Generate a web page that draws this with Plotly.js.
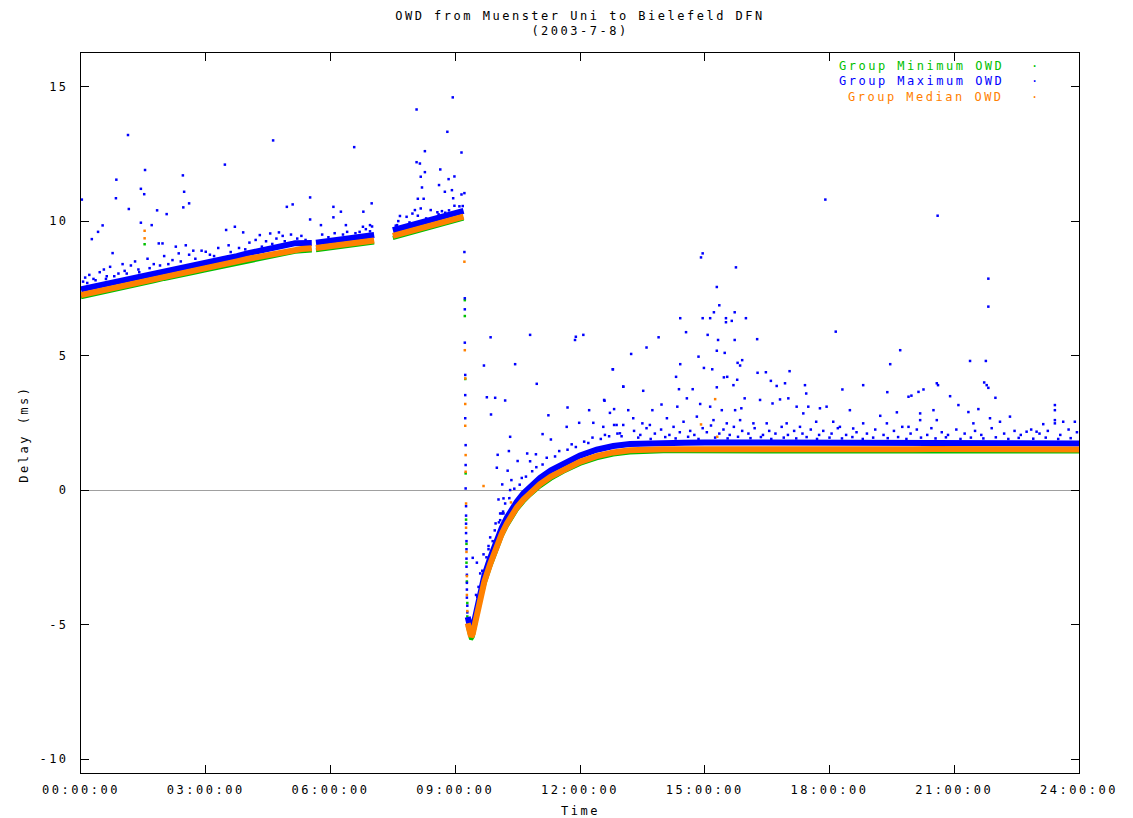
<!DOCTYPE html>
<html>
<head>
<meta charset="utf-8">
<script src="https://cdn.plot.ly/plotly-3.0.1.min.js"></script>
<style>
  html, body { margin: 0; padding: 0; background: #ffffff; }
  #chart { width: 1133px; height: 818px; }
  text { letter-spacing: 2.5px; }
</style>
</head>
<body>
<div id="chart"></div>
<script>
// ---------------- data ----------------
// time in hours of day 2003-07-08, delay in ms
const bandT = [0,0.25,0.5,0.75,1,1.25,1.5,1.75,2,2.25,2.5,2.75,3,3.25,3.5,3.75,4,4.25,4.5,4.75,5,
  5.1,5.15,5.3,5.55,null,5.65,5.9,6.2,6.5,6.8,7.05,null,7.5,7.75,8,8.25,8.5,8.75,9,9.2,null,
  9.3,9.34,9.38,9.42,9.46,9.52,9.6,9.7,9.84,10,10.12,10.24,10.36,10.48,10.64,10.8,11.04,11.3,11.6,12,12.4,12.8,13.2,13.6,
  14,14.5,15,15.5,16,16.5,17,17.5,18,18.5,19,19.5,20,20.5,21,21.5,22,22.5,23,23.5,24];

const medianBand = [7.25,7.33,7.42,7.5,7.58,7.67,7.76,7.84,7.93,8.0,8.08,8.17,8.25,8.33,8.42,8.5,8.59,8.67,8.75,8.84,8.91,
  8.93,8.94,8.96,8.99,null,9.0,9.05,9.11,9.17,9.23,9.28,null,9.45,9.56,9.66,9.77,9.88,9.98,10.08,10.17,null,
  -4.95,-5.3,-5.45,-5.35,-5.1,-4.6,-4.0,-3.4,-2.75,-2.05,-1.62,-1.25,-0.93,-0.65,-0.35,-0.1,0.22,0.5,0.76,1.05,1.26,1.4,1.48,1.51,
  1.52,1.52,1.53,1.52,1.52,1.53,1.52,1.52,1.51,1.52,1.52,1.52,1.52,1.53,1.52,1.52,1.52,1.51,1.51,1.51,1.51];

const maximumBand = [7.46,7.54,7.62,7.7,7.79,7.87,7.96,8.04,8.13,8.2,8.29,8.37,8.45,8.54,8.62,8.7,8.8,8.87,8.95,9.04,9.11,
  9.16,9.18,9.17,9.19,null,9.2,9.25,9.31,9.38,9.43,9.48,null,9.66,9.77,9.87,9.98,10.09,10.19,10.29,10.38,null,
  -4.72,-5.08,-5.24,-5.14,-4.88,-4.38,-3.78,-3.18,-2.53,-1.83,-1.4,-1.03,-0.71,-0.43,-0.12,0.13,0.45,0.73,0.99,1.28,1.5,1.64,1.71,1.74,
  1.75,1.76,1.77,1.77,1.76,1.76,1.75,1.75,1.74,1.75,1.75,1.74,1.75,1.75,1.74,1.74,1.74,1.73,1.73,1.73,1.73];

const minimumBand = [7.17,7.25,7.34,7.42,7.5,7.59,7.68,7.76,7.85,7.92,8.0,8.09,8.17,8.25,8.34,8.42,8.51,8.59,8.67,8.76,8.83,
  8.85,8.86,8.88,8.91,null,8.92,8.97,9.03,9.09,9.15,9.2,null,9.37,9.48,9.58,9.69,9.8,9.9,10.0,10.09,null,
  -5.05,-5.4,-5.55,-5.45,-5.2,-4.7,-4.1,-3.5,-2.84,-2.14,-1.7,-1.33,-1.01,-0.73,-0.43,-0.18,0.14,0.42,0.68,0.97,1.18,1.32,1.4,1.43,
  1.44,1.44,1.44,1.44,1.44,1.44,1.44,1.44,1.43,1.44,1.44,1.44,1.44,1.44,1.44,1.44,1.44,1.43,1.43,1.43,1.43];

// scattered single samples [hour, ms]
const maximumPoints = [
  [0.02,10.8],[0.26,9.33],[0.41,9.6],[0.52,9.84],[0.76,8.81],[0.84,10.85],[0.85,11.54],[1.13,13.2],[1.15,10.45],
  [1.44,11.2],[1.52,11.0],[1.54,11.9],[1.44,9.94],[1.7,9.85],[1.83,10.4],[2.06,10.26],[1.87,9.17],[1.96,9.17],
  [2.28,9.05],[2.48,11.09],[2.45,11.7],[2.6,10.66],[2.46,10.51],[2.52,9.1],[2.7,8.9],[3.0,8.86],[3.46,12.1],
  [3.49,9.67],[3.7,9.79],[3.9,9.58],[4.3,9.48],[4.55,9.54],[4.62,13.0],[4.76,9.58],[4.95,10.53],[5.09,10.62],
  [5.51,10.88],[5.51,10.06],[5.77,9.85],[6.07,10.53],[6.07,10.14],[6.25,10.35],[6.37,9.85],[6.57,12.75],
  [6.79,10.35],[6.99,10.66],[6.95,9.85],[6.78,9.79],
  [0.1,7.9],[0.2,8.0],[0.3,7.85],[0.45,8.1],[0.55,8.2],[0.62,7.95],[0.7,8.3],[0.9,8.05],[1.0,8.4],[1.05,8.15],
  [1.2,8.35],[1.3,8.5],[1.38,8.2],[1.6,8.6],[1.75,8.4],[2.0,8.7],[2.2,8.55],[2.35,8.8],[2.6,8.75],[2.9,8.9],
  [3.1,8.75],[3.3,9.0],[3.55,9.1],[3.8,9.0],[4.05,9.2],[4.2,9.3],[4.45,9.25],[4.7,9.35],[4.85,9.45],[5.05,9.5],
  [5.3,9.45],[5.8,9.5],[6.1,9.55],[6.4,9.6],[6.6,9.55],[6.85,9.7],[7.0,9.8],
  [0.05,7.75],[0.15,7.7],[0.35,7.8],[0.6,7.85],[0.8,7.95],[1.1,8.05],[1.4,8.1],[1.65,8.25],[1.9,8.35],[2.1,8.4],
  [2.4,8.5],[2.75,8.6],[3.2,8.7],[3.6,8.85],[3.95,8.95],[4.35,9.05],[4.6,9.15],[4.9,9.25],[5.2,9.35],[5.4,9.3],
  [5.95,9.4],[6.3,9.5],[6.7,9.6],[6.95,9.62],[7.6,9.85],[7.9,9.95],[8.3,10.1],[8.6,10.25],[8.85,10.4],[9.1,10.55],
  [8.94,14.6],[8.07,14.15],[8.81,13.32],[8.27,12.6],[9.15,12.55],[8.07,12.19],[8.15,12.14],[8.64,11.92],[8.27,11.82],
  [8.17,11.65],[8.98,11.66],[8.84,11.56],[8.61,11.34],[8.2,11.25],[8.75,11.09],[8.92,11.15],[9.22,11.04],[9.15,10.99],
  [8.95,10.85],[8.1,10.83],[8.24,10.83],[8.98,10.57],[9.18,10.56],[8.03,10.41],[8.17,10.47],[8.41,10.41],[8.57,10.33],
  [8.68,10.37],[8.76,10.31],[7.67,10.19],[7.83,10.16],[7.97,10.28],[8.1,10.2],[7.57,9.83],[7.63,10.0],[9.22,8.85],
  [9.23,7.13],[9.23,6.72],[9.23,5.48],[9.24,4.28],[9.24,3.53],[9.24,2.67],[9.25,1.67],[9.25,0.93],[9.25,0.06],
  [9.26,-0.6],[9.26,-0.95],[9.26,-1.25],[9.26,-1.6],[9.27,-1.9],[9.27,-2.2],[9.27,-2.55],[9.27,-2.85],[9.28,-3.15],
  [9.28,-3.45],[9.28,-3.7],[9.28,-4.0],[9.29,-4.3],[9.29,-4.55],[9.29,-4.85],
  [9.85,5.68],[9.69,4.63],[10.44,4.68],[10.8,5.77],[11.88,5.58],[12.08,5.77],[10.96,3.95],[9.76,3.45],[9.96,3.43],
  [10.2,3.33],[9.86,2.81],[11.24,2.78],[11.7,3.07],[12.79,4.49],[13.04,3.84],[12.58,3.35],[10.32,1.98],[10.02,1.31],
  [10.29,1.45],[10.0,0.83],[10.26,0.72],[10.5,1.08],[10.73,1.36],[10.8,1.07],[10.94,1.33],[11.1,2.08],[11.3,1.88],
  [10.35,0.37],[10.13,0.21],[10.04,-0.35],[10.16,-0.31],[10.32,0.0],[10.08,-0.87],[10.12,-0.87],[10.16,-0.87],
  [9.97,-1.24],[10.08,-1.12],[9.84,-1.76],[9.8,-2.08],[9.68,-2.39],[9.42,-2.52],[9.52,-2.7],[9.6,-3.1],[9.64,-3.44],
  [9.53,-3.97],[9.61,-4.09],[9.48,-4.77],[11.68,2.35],[11.98,2.5],[12.22,2.97],[12.32,2.5],[12.56,2.35],[12.72,2.87],
  [12.82,2.42],[12.96,2.11],[13.04,2.42],
  [9.5,-3.9],[9.56,-3.6],[9.65,-3.0],[9.75,-2.5],[9.8,-2.2],[9.9,-1.9],[9.95,-1.5],[10.05,-1.2],[10.15,-0.8],
  [10.2,-0.5],[10.3,-0.3],[10.42,0.05],[10.55,0.2],[10.6,0.45],[10.7,0.5],[10.85,0.7],[10.95,0.85],[11.1,0.95],
  [11.2,1.2],[11.4,1.25],[11.5,1.45],[11.7,1.5],[11.8,1.7],[11.9,1.6],[12.1,1.8],[12.2,1.75],[12.3,1.95],
  [12.5,1.9],[12.6,2.05],[12.7,2.0],[12.9,2.1],[13.0,2.0],
  [14.95,8.8],[14.91,8.65],[15.75,8.28],[15.29,7.55],[15.35,6.87],[15.22,6.61],[15.72,6.61],[14.41,6.39],[14.95,6.39],
  [15.13,6.39],[15.51,6.39],[15.51,6.24],[15.65,6.29],[15.99,6.39],[14.55,5.87],[15.07,5.77],[15.32,5.58],[15.72,5.58],
  [16.26,5.61],[13.89,5.68],[18.15,5.89],[13.23,5.06],[15.29,5.18],[15.48,5.1],[14.85,4.96],[14.41,4.68],[12.79,4.49],
  [14.98,4.54],[15.18,4.49],[15.79,4.73],[15.9,4.83],[15.85,4.63],[16.27,4.36],[17.04,4.42],[14.31,4.21],[15.46,4.19],
  [15.54,4.21],[15.29,3.82],[15.69,3.9],[15.78,4.1],[13.04,3.85],[13.52,3.69],[14.38,3.75],[14.71,3.75],[16.47,4.38],
  [16.59,4.06],[16.73,3.87],[16.93,3.97],[17.41,3.9],[17.44,3.59],[18.31,3.74],[18.81,3.9],[19.39,3.64],[19.7,5.2],
  [19.46,4.68],[19.9,3.47],[19.97,3.51],[20.14,3.65],[20.26,3.74],[20.58,3.97],[20.61,3.9],[20.9,3.49],[21.38,4.8],
  [21.76,4.8],[21.82,7.86],[21.82,6.82],[21.72,4.0],[21.78,3.9],[21.82,3.8],[21.99,3.43],[23.42,3.16],[21.1,3.16],
  [21.58,3.01],[21.34,2.9],[22.34,2.73],[20.5,2.97],[20.18,2.85],[19.62,2.89],[19.22,2.76],[18.49,2.97],[18.09,2.54],
  [17.93,3.1],[17.77,3.04],[17.49,3.1],[17.37,2.85],[17.21,3.1],[17.01,3.41],[16.81,3.37],[16.63,3.22],[16.33,3.35],
  [15.96,3.41],[15.88,3.04],[15.73,2.97],[15.41,2.97],[15.13,3.1],[14.89,3.2],[14.57,3.41],[14.34,3.1],[13.96,3.18],
  [13.74,2.97],[13.5,2.48],[13.16,2.97],[12.82,3.01],[12.59,3.32],[23.14,2.45],[23.42,2.97],[23.42,2.6],[23.42,2.48],
  [23.62,2.54],[23.9,2.54],[22.74,2.17],[22.98,2.17],[22.1,2.54],[21.86,2.67],[21.46,2.48],[20.58,2.6],[20.18,2.6],
  [19.9,2.35],[19.38,2.48],[18.81,2.48],[18.57,2.29],[18.25,2.35],[17.68,2.54],[17.29,2.35],[16.97,2.48],[16.49,2.48],
  [16.17,2.48],[15.85,2.6],[15.53,2.48],[15.21,2.6],[14.81,2.73],[14.49,2.54],[14.09,2.67],[13.68,2.42],[13.28,2.67],
  [12.88,2.42],[17.9,10.8],[20.6,10.2],[11.9,5.7],[13.6,5.3],
  [13.3,2.2],[13.45,2.05],[13.6,2.3],[13.8,2.1],[13.95,2.25],[14.15,2.05],[14.25,2.35],[14.4,2.15],[14.65,2.2],
  [14.75,2.05],[14.95,2.3],[15.05,2.15],[15.15,2.4],[15.35,2.1],[15.45,2.25],[15.6,2.05],[15.7,2.35],[15.9,2.2],
  [16.05,2.1],[16.2,2.3],[16.4,2.05],[16.55,2.2],[16.7,2.1],[16.85,2.35],[17.0,2.05],[17.15,2.2],[17.35,2.1],
  [17.55,2.25],[17.75,2.05],[17.85,2.2],[18.05,2.1],[18.2,2.3],[18.4,2.05],[18.65,2.15],[18.9,2.1],[19.1,2.25],
  [19.3,2.05],[19.55,2.2],[19.75,2.35],[19.95,2.1],[20.1,2.25],[20.35,2.05],[20.45,2.3],[20.7,2.15],[20.85,2.05],
  [21.05,2.25],[21.25,2.1],[21.5,2.2],[21.65,2.05],[21.9,2.3],[22.2,2.1],[22.45,2.2],[22.6,2.05],[22.85,2.25],
  [23.05,2.1],[23.25,2.2],[23.55,2.05],[23.75,2.25],[23.95,2.15],
  [13.4,1.95],[13.7,1.9],[14.05,1.97],[14.3,1.92],[14.6,1.98],[14.85,1.9],[15.25,1.95],[15.55,1.92],[15.8,1.98],
  [16.1,1.93],[16.35,1.97],[16.6,1.9],[16.9,1.95],[17.2,1.92],[17.45,1.97],[17.7,1.9],[18.0,1.95],[18.3,1.92],
  [18.55,1.97],[18.8,1.9],[19.05,1.95],[19.4,1.93],[19.65,1.97],[19.85,1.9],[20.2,1.95],[20.55,1.92],[20.8,1.96],
  [21.15,1.9],[21.4,1.95],[21.7,1.92],[22.0,1.96],[22.3,1.9],[22.55,1.94],[22.9,1.91],[23.2,1.95],[23.5,1.9],
  [23.8,1.93]
];

const medianPoints = [
  [1.53,9.64],[1.53,9.36],[9.22,8.49],[9.23,5.2],[9.24,4.15],[9.24,3.2],[9.24,2.39],[9.25,1.3],[9.25,0.68],
  [9.26,-0.5],[9.26,-1.4],[9.27,-2.3],[9.28,-3.2],[9.28,-3.9],[9.29,-4.5],[9.68,0.15],[10.34,-0.46],
  [15.25,3.38],[14.91,2.44],[15.3,1.98]
];

const minimumPoints = [
  [1.53,9.14],[9.23,7.06],[9.23,6.47],[9.24,4.13],[9.25,0.62],[9.26,-1.1],[9.27,-2.0],[9.27,-2.7],
  [9.28,-3.4],[9.29,-4.2],[9.29,-4.7]
];

const seriesNames = ['Group Minimum OWD', 'Group Maximum OWD', 'Group Median OWD'];
const tickHours = [0, 3, 6, 9, 12, 15, 18, 21, 24];
const tickLabels = ['00:00:00','03:00:00','06:00:00','09:00:00','12:00:00','15:00:00','18:00:00','21:00:00','24:00:00'];
const delayTicks = [-10, -5, 0, 5, 10, 15];
const delayLabels = ['-10', '-5', '0', '5', '10', '15'];

// ---------------- styles ----------------
const GREEN = '#00c000', BLUE = '#0000ff', ORANGE = '#ff8000';
const FONT = 'DejaVu Sans Mono, Liberation Mono, monospace';

function bandTrace(y, color, width, name) {
  return { x: bandT, y: y, type: 'scatter', mode: 'lines', name: name,
           line: { color: color, width: width }, connectgaps: false, hoverinfo: 'skip' };
}
function pointTrace(pts, color, name) {
  return { x: pts.map(p => p[0]), y: pts.map(p => p[1]), type: 'scatter', mode: 'markers', name: name,
           marker: { color: color, size: 2.5, symbol: 'square', line: { width: 0 } }, hoverinfo: 'skip' };
}

const traces = [
  bandTrace(minimumBand, GREEN, 4, seriesNames[0]),
  pointTrace(minimumPoints, GREEN, seriesNames[0]),
  bandTrace(maximumBand, BLUE, 6, seriesNames[1]),
  pointTrace(maximumPoints, BLUE, seriesNames[1]),
  bandTrace(medianBand, ORANGE, 6, seriesNames[2]),
  pointTrace(medianPoints, ORANGE, seriesNames[2])
];

const axisCommon = {
  showline: true, linecolor: '#000000', linewidth: 1, mirror: 'allticks',
  ticks: 'inside', ticklen: 8, tickwidth: 1, tickcolor: '#000000',
  showgrid: false, tickfont: { family: FONT, size: 12, color: '#000000' }
};

const legendColors = [GREEN, BLUE, ORANGE];
const legendY = [0.9819, 0.961, 0.9386];
const annotations = [
  { text: 'Delay (ms)', xref: 'paper', yref: 'paper', x: -0.058, y: 0.47, textangle: -90,
    showarrow: false, xanchor: 'center', yanchor: 'middle', font: { family: FONT, size: 12, color: '#000' } },
  { text: 'Time', xref: 'paper', yref: 'paper', x: 0.5, y: -0.053, showarrow: false,
    xanchor: 'center', yanchor: 'middle', font: { family: FONT, size: 12, color: '#000' } }
];
seriesNames.forEach((n, i) => {
  annotations.push({ text: n, xref: 'paper', yref: 'paper', x: 0.9265, y: legendY[i], showarrow: false,
    xanchor: 'right', yanchor: 'middle', font: { family: FONT, size: 12, color: legendColors[i] } });
  annotations.push({ text: '·', xref: 'paper', yref: 'paper', x: 0.957, y: legendY[i], showarrow: false,
    xanchor: 'center', yanchor: 'middle', font: { family: FONT, size: 12, color: legendColors[i] } });
});

const layout = {
  width: 1133, height: 818,
  margin: { l: 81, r: 54, t: 53, b: 45 },
  paper_bgcolor: '#ffffff', plot_bgcolor: '#ffffff',
  showlegend: false,
  title: { text: 'OWD from Muenster Uni to Bielefeld DFN<br>(2003-7-8)', x: 0.5, xref: 'paper',
           y: 0.976, yref: 'container', yanchor: 'top', font: { family: FONT, size: 12, color: '#000' } },
  xaxis: Object.assign({}, axisCommon, { range: [0, 24], tickmode: 'array', tickvals: tickHours,
           ticktext: tickLabels, zeroline: false, ticklabelstandoff: 6 }),
  yaxis: Object.assign({}, axisCommon, { range: [-10.52, 16.25], tickmode: 'array', tickvals: delayTicks,
           ticktext: delayLabels, zeroline: true, zerolinecolor: '#a0a0a0', zerolinewidth: 1, ticklabelstandoff: 9 }),
  annotations: annotations
};

Plotly.newPlot('chart', traces, layout, { staticPlot: true, displayModeBar: false });
</script>
</body>
</html>
